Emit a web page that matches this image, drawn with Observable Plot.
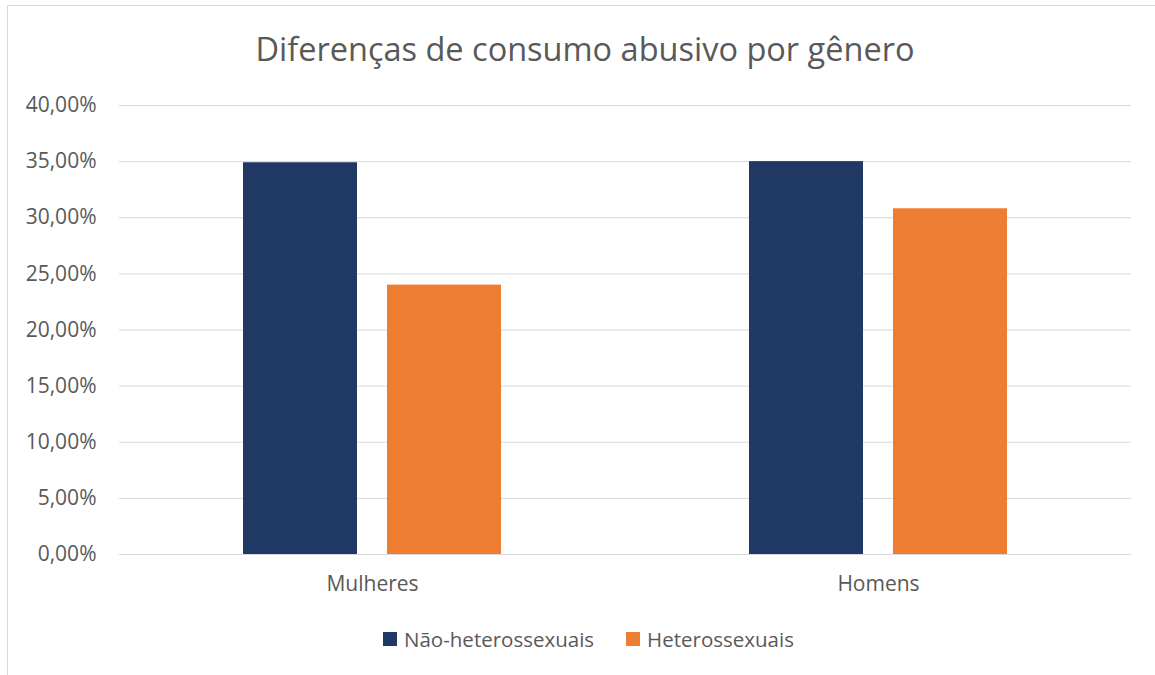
<!DOCTYPE html>
<html>
<head>
<meta charset="utf-8">
<script src="https://cdn.jsdelivr.net/npm/d3@7"></script>
<script src="https://cdn.jsdelivr.net/npm/@observablehq/plot@0.6"></script>
<style>
  html, body { margin: 0; padding: 0; background: #fff; }
  body { width: 1155px; height: 675px; overflow: hidden; font-family: "Open Sans", sans-serif; }
  #wrap { position: relative; width: 1155px; height: 675px; }
  #frame { position: absolute; left: 7px; top: 5px; width: 1160px; height: 690px; border: 1px solid #d9d9d9; box-sizing: border-box; }
  #title { position: absolute; left: 0; width: 1170px; top: 27px; text-align: center; font-size: 32.5px; line-height: 44px; color: #595959; }
  #chart { position: absolute; left: 0; top: 0; }
  #legend { position: absolute; left: 11px; width: 1155px; top: 624px; text-align: center; font-size: 20.5px; line-height: 28px; color: #595959; }
  .item { display: inline-flex; align-items: center; margin: 0 16px; }
  .sw { width: 14px; height: 14px; margin-right: 7px; display: inline-block; }
</style>
</head>
<body>
<div id="wrap">
  <div id="frame"></div>
  <div id="title"></div>
  <div id="chart"></div>
  <div id="legend"></div>
</div>
<script>
const title = "Diferenças de consumo abusivo por gênero";
const categories = ["Mulheres", "Homens"];
const seriesNames = ["Não-heterossexuais", "Heterossexuais"];
const seriesColors = ["#203864", "#ED7D31"];
const naoHetero = [0.349, 0.350];
const hetero = [0.240, 0.308];
const yTicks = [0, 0.05, 0.10, 0.15, 0.20, 0.25, 0.30, 0.35, 0.40];

const data = [];
categories.forEach((c, i) => {
  data.push({cat: c, serie: seriesNames[0], v: naoHetero[i]});
  data.push({cat: c, serie: seriesNames[1], v: hetero[i]});
});

const fmt = v => (v * 100).toFixed(2).replace(".", ",") + "%";

const chart = Plot.plot({
  width: 1155,
  height: 600,
  marginTop: 105,
  marginBottom: 46,
  marginLeft: 119,
  marginRight: 24,
  style: { fontFamily: "Open Sans, sans-serif", fontSize: "21px", color: "#595959", background: "transparent" },
  fx: { domain: categories, padding: 0, label: null, axis: "bottom", tickSize: 0, tickPadding: 22 },
  x: { domain: seriesNames, paddingInner: 0.2083, paddingOuter: 0.861, axis: null },
  y: { domain: [0, 0.40], ticks: yTicks, tickFormat: fmt, label: null, tickSize: 0, tickPadding: 23 },
  color: { domain: seriesNames, range: seriesColors },
  marks: [
    Plot.gridY(yTicks, { stroke: "#d9d9d9", strokeOpacity: 1, strokeWidth: 1 }),
    Plot.barY(data, { fx: "cat", x: "serie", y: "v", fill: "serie" })
  ]
});
document.getElementById("chart").appendChild(chart);
document.getElementById("title").textContent = title;

const leg = document.getElementById("legend");
seriesNames.forEach((s, i) => {
  const it = document.createElement("span");
  it.className = "item";
  const sw = document.createElement("span");
  sw.className = "sw";
  sw.style.background = seriesColors[i];
  it.appendChild(sw);
  it.appendChild(document.createTextNode(s));
  leg.appendChild(it);
});
</script>
</body>
</html>
